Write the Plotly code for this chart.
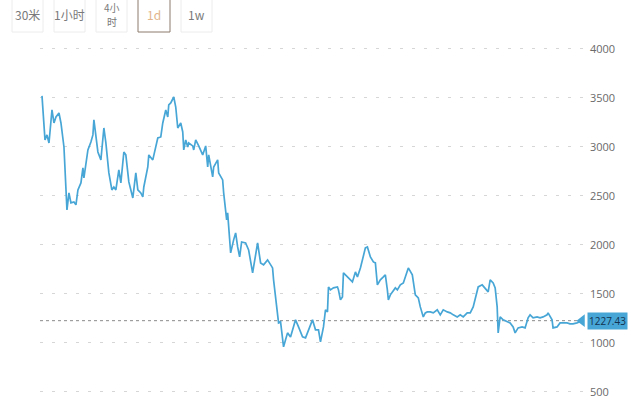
import plotly.graph_objects as go

# ---- data ----
days = [0, 3, 5, 7, 10, 12, 14, 17, 19, 22, 25, 27, 29, 32, 34, 36, 39, 41, 42, 46,
        49, 51, 52, 54, 56, 59, 62, 64, 66, 67, 70, 72, 74, 76, 77, 79, 82, 84, 86, 87,
        91, 94, 96, 99, 101, 102, 106, 107, 111, 114, 116, 119, 121, 124, 126, 127, 129, 132, 134, 136,
        139, 141, 142, 144, 146, 147, 151, 152, 154, 157, 161, 164, 166, 167, 171, 172, 176, 177, 181, 182,
        185, 186, 189, 192, 194, 196, 198, 200, 204, 207, 211, 212, 216, 219, 222, 226, 231, 232, 234, 236,
        237, 239, 241, 242, 244, 246, 249, 251, 254, 257, 261, 264, 267, 271, 274, 277, 279, 282, 284, 286,
        287, 289, 292, 296, 297, 299, 301, 302, 304, 307, 311, 314, 316, 319, 321, 324, 326, 329, 332, 334,
        336, 339, 342, 344, 346, 347, 349, 351, 354, 356, 359, 362, 366, 367, 371, 372, 374, 377, 379, 382,
        384, 386, 389, 392, 396, 399, 402, 406, 409, 412, 416, 419, 422, 426, 429, 432, 436, 437, 441, 444,
        447, 449, 452, 454, 456, 457, 459, 462, 466, 469, 472, 474, 477, 481, 484, 487, 489, 492, 496, 499,
        502, 506, 507, 511, 512, 516, 519, 522, 526, 529, 532, 536, 539, 541]
prices = [3521, 3072, 3123, 3041, 3378, 3245, 3306, 3347, 3245, 3000, 2358, 2531, 2429, 2439, 2409, 2562, 2633, 2786, 2684, 2970,
          3051, 3123, 3276, 3102, 2949, 2868, 3194, 3041, 2796, 2735, 2562, 2592, 2562, 2735, 2766, 2633, 2949, 2919, 2735, 2643,
          2480, 2735, 2562, 2531, 2490, 2592, 2796, 2919, 2868, 3021, 3092, 3102, 3245, 3378, 3306, 3429, 3449, 3510, 3408, 3194,
          3245, 3153, 2970, 3072, 3000, 3041, 3011, 2970, 3072, 3011, 2919, 3011, 2796, 2919, 2694, 2796, 2868, 2735, 2664, 2531,
          2256, 2327, 1919, 2052, 2123, 1980, 1878, 2031, 2021, 1950, 1715, 1776, 2021, 1817, 1797, 1848, 1766, 1644, 1470, 1236,
          1205, 1215, 1062, 960, 1032, 1103, 1062, 1134, 1236, 1164, 1062, 1052, 1134, 1236, 1134, 1134, 1011, 1164, 1338, 1317,
          1572, 1542, 1562, 1572, 1542, 1440, 1470, 1715, 1695, 1664, 1623, 1725, 1674, 1766, 1848, 1970, 1980, 1878, 1827, 1817,
          1593, 1644, 1674, 1695, 1542, 1440, 1491, 1521, 1562, 1542, 1593, 1613, 1746, 1766, 1695, 1613, 1491, 1460, 1368, 1266,
          1307, 1317, 1317, 1307, 1338, 1287, 1338, 1317, 1307, 1287, 1266, 1287, 1266, 1307, 1307, 1368, 1542, 1572, 1593, 1562,
          1521, 1644, 1613, 1562, 1368, 1103, 1266, 1236, 1215, 1205, 1164, 1103, 1154, 1164, 1154, 1256, 1287, 1256, 1266, 1256,
          1266, 1287, 1307, 1236, 1154, 1164, 1205, 1205, 1205, 1195, 1195, 1205, 1215, 1227.43]
last_price = 1227.43
y_ticks = [500, 1000, 1500, 2000, 2500, 3000, 3500, 4000]
buttons = [["30米"], ["1小时"], ["4小", "时"], ["1d"], ["1w"]]
selected = "1d"

# ---- layout helpers (pixel -> paper) ----
W, H = 640, 400
ML, MR, MT, MB = 40, 57, 19, 0
PW, PH = W - ML - MR, H - MT - MB


def px(x):
    return (x - ML) / PW


def py(y):
    return (H - MB - y) / PH


LINE = "#47a6d6"

fig = go.Figure()
fig.add_trace(go.Scatter(x=days, y=prices, mode="lines",
                         line=dict(color=LINE, width=1.7), hoverinfo="skip",
                         showlegend=False))
# arrow tip of price tag
fig.add_trace(go.Scatter(x=[days[-1]], y=[last_price], mode="markers",
                         marker=dict(symbol="triangle-left", size=11, color=LINE),
                         cliponaxis=False, showlegend=False, hoverinfo="skip"))

shapes = [dict(type="line", xref="paper", yref="y", x0=0, x1=1,
               y0=last_price, y1=last_price,
               line=dict(color="#8a8a8a", width=1, dash="dot"), layer="below")]

annotations = [dict(xref="paper", yref="y", x=px(587), y=last_price,
                    xanchor="left", yanchor="middle", text="1227.43",
                    showarrow=False, bgcolor=LINE, borderpad=1,
                    font=dict(family="Open Sans", size=10, color="#12324f"))]

# period buttons
btn_x = [(12, 43), (54, 85), (96, 127), (138, 170), (181, 212)]
for (x0, x1), lines in zip(btn_x, buttons):
    sel = lines[0] == selected
    shapes.append(dict(type="rect", xref="paper", yref="paper",
                       x0=px(x0), x1=px(x1), y0=py(32), y1=py(-4),
                       line=dict(color="#8c7c6c" if sel else "#ececec", width=1),
                       fillcolor="#ffffff", layer="above"))
    ys = [14] if len(lines) == 1 else [7, 21]
    for txt, yy in zip(lines, ys):
        annotations.append(dict(xref="paper", yref="paper", x=px((x0 + x1) / 2),
                                y=py(yy), xanchor="center", yanchor="middle",
                                text=txt, showarrow=False,
                                font=dict(family="Noto Sans CJK SC",
                                          size=12 if len(lines) == 1 else 10,
                                          color="#e2b58c" if sel else "#7a7a7a")))

fig.update_layout(
    width=W, height=H,
    margin=dict(l=ML, r=MR, t=MT, b=MB, autoexpand=False),
    paper_bgcolor="white", plot_bgcolor="white",
    showlegend=False,
    shapes=shapes, annotations=annotations,
    xaxis=dict(range=[-2, 542], visible=False, showgrid=False, zeroline=False),
    yaxis=dict(side="right", range=[418, 4306], tickvals=y_ticks,
               ticktext=[str(v) for v in y_ticks],
               showgrid=True, gridcolor="#d6d6d6", griddash="3px,9px", gridwidth=1,
               zeroline=False, showline=False, ticks="",
               ticklabelstandoff=6,
               tickfont=dict(family="Open Sans", size=11, color="#6a6a6a")),
)

fig.write_html("out.html", config={"displayModeBar": False},
               post_script="document.body.style.margin='0';document.body.style.overflow='hidden';")
